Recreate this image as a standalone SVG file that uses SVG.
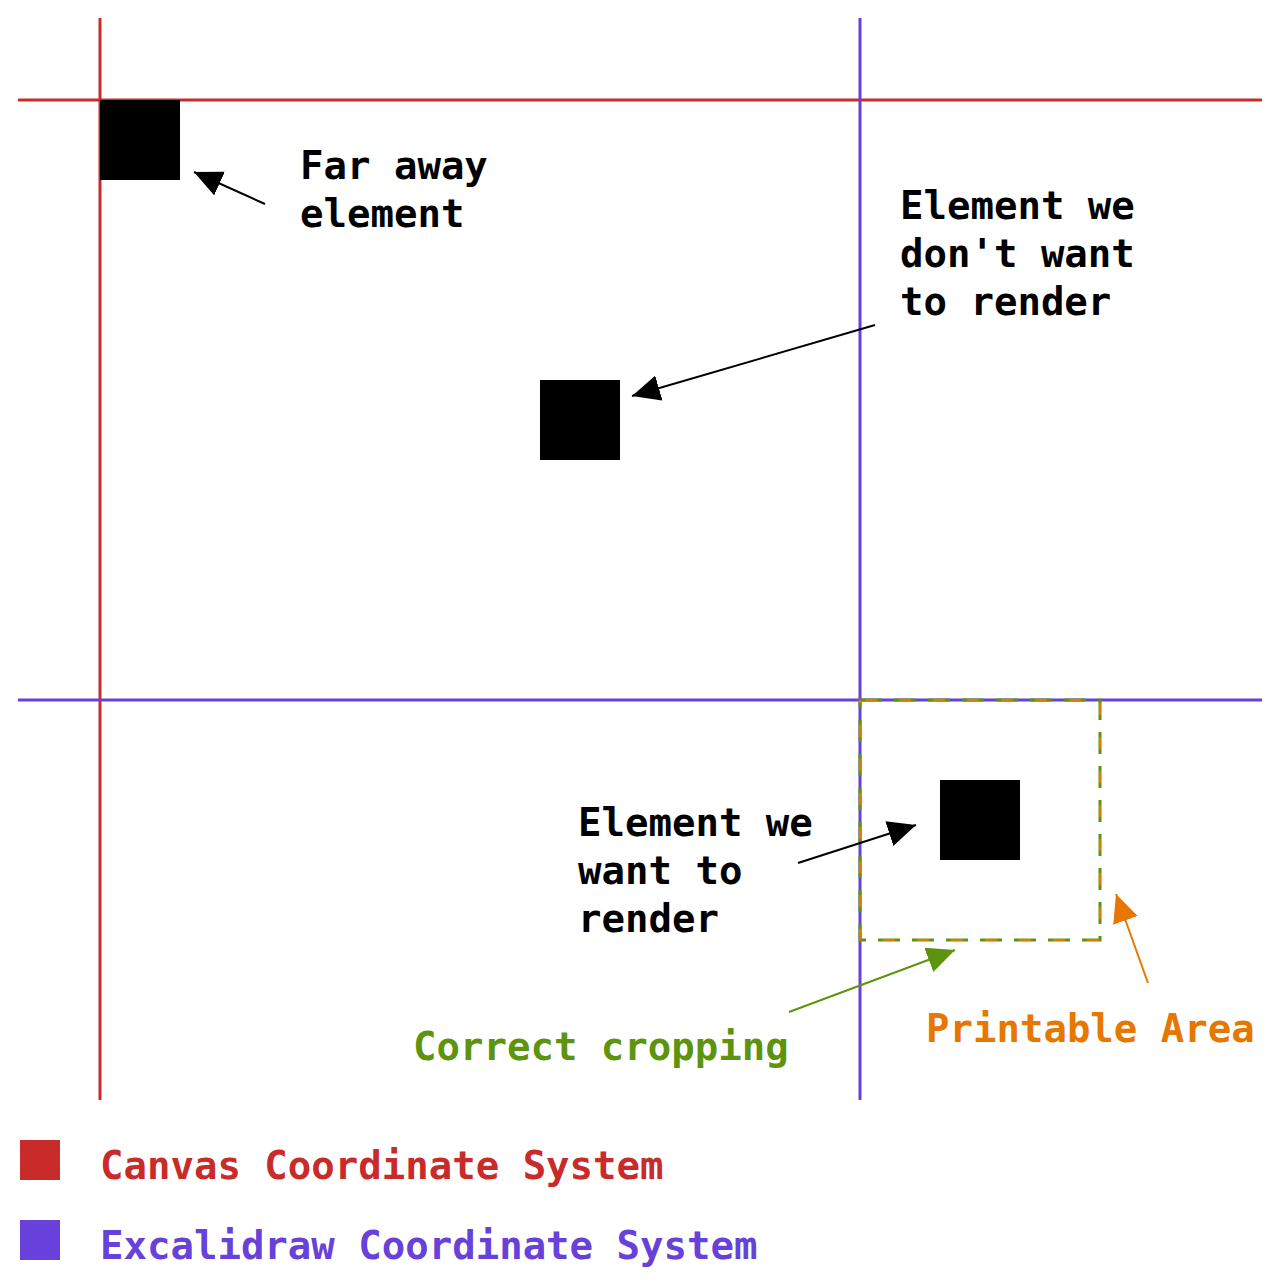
<svg xmlns="http://www.w3.org/2000/svg" width="1280" height="1288" viewBox="0 0 1280 1288">
<style>
text{font-family:"DejaVu Sans Mono","Liberation Mono",monospace;font-size:39px;font-weight:bold}
.blk{fill:#000}
.red{stroke:#c92a2a;stroke-width:3}
.pur{stroke:#6741d9;stroke-width:3}
.ar{fill:none;stroke-width:2}
</style>
<defs>
<marker id="mk" markerUnits="userSpaceOnUse" markerWidth="30" markerHeight="26" refX="28" refY="13" orient="auto"><path d="M0,0 L28,13 L0,26 z" fill="#000"/></marker>
<marker id="mg" markerUnits="userSpaceOnUse" markerWidth="30" markerHeight="26" refX="28" refY="13" orient="auto"><path d="M0,0 L28,13 L0,26 z" fill="#5c940d"/></marker>
<marker id="mo" markerUnits="userSpaceOnUse" markerWidth="30" markerHeight="26" refX="28" refY="13" orient="auto"><path d="M0,0 L28,13 L0,26 z" fill="#e67700"/></marker>
</defs>
<rect width="1280" height="1288" fill="#fff"/>
<g id="axes">
<line class="red" x1="100" y1="18" x2="100" y2="1100"/>
<line class="red" x1="18" y1="100" x2="1262" y2="100"/>
<line class="pur" x1="860" y1="18" x2="860" y2="1100"/>
<line class="pur" x1="18" y1="700" x2="1262" y2="700"/>
</g>
<g id="printable-area">
<rect x="860" y="700" width="240" height="240" fill="none" stroke="#5c940d" stroke-width="3" stroke-dasharray="22 12"/>
<rect x="860" y="700" width="240" height="240" fill="none" stroke="#e67700" stroke-width="2" stroke-dasharray="12 22" stroke-dashoffset="-5"/>
</g>
<g id="far-element"><rect class="blk" x="100" y="100" width="80" height="80"/></g>
<g id="unwanted-element"><rect class="blk" x="540" y="380" width="80" height="80"/></g>
<g id="wanted-element"><rect class="blk" x="940" y="780" width="80" height="80"/></g>
<g id="connectors">
<line class="ar" stroke="#000" x1="265" y1="204" x2="194" y2="172" marker-end="url(#mk)"/>
<line class="ar" stroke="#000" x1="875" y1="325" x2="632" y2="396" marker-end="url(#mk)"/>
<line class="ar" stroke="#000" x1="798" y1="863" x2="916" y2="825" marker-end="url(#mk)"/>
<line class="ar" stroke="#5c940d" x1="789" y1="1012" x2="955" y2="950" marker-end="url(#mg)"/>
<line class="ar" stroke="#e67700" x1="1148" y1="983" x2="1116" y2="894" marker-end="url(#mo)"/>
</g>
<g id="label-far">
<text x="300" y="179">Far away</text>
<text x="300" y="227">element</text>
</g>
<g id="label-unwanted">
<text x="900" y="219">Element we</text>
<text x="900" y="267">don't want</text>
<text x="900" y="315">to render</text>
</g>
<g id="label-wanted">
<text x="578" y="836">Element we</text>
<text x="578" y="884">want to</text>
<text x="578" y="932">render</text>
</g>
<g id="label-cropping"><text x="413" y="1060" fill="#5c940d">Correct cropping</text></g>
<g id="label-printable"><text x="926" y="1042" fill="#e67700">Printable Area</text></g>
<g id="legend">
<rect x="20" y="1140" width="40" height="40" fill="#c92a2a"/>
<text x="100" y="1179" fill="#c92a2a">Canvas Coordinate System</text>
<rect x="20" y="1220" width="40" height="40" fill="#6741d9"/>
<text x="100" y="1259" fill="#6741d9">Excalidraw Coordinate System</text>
</g>
</svg>
